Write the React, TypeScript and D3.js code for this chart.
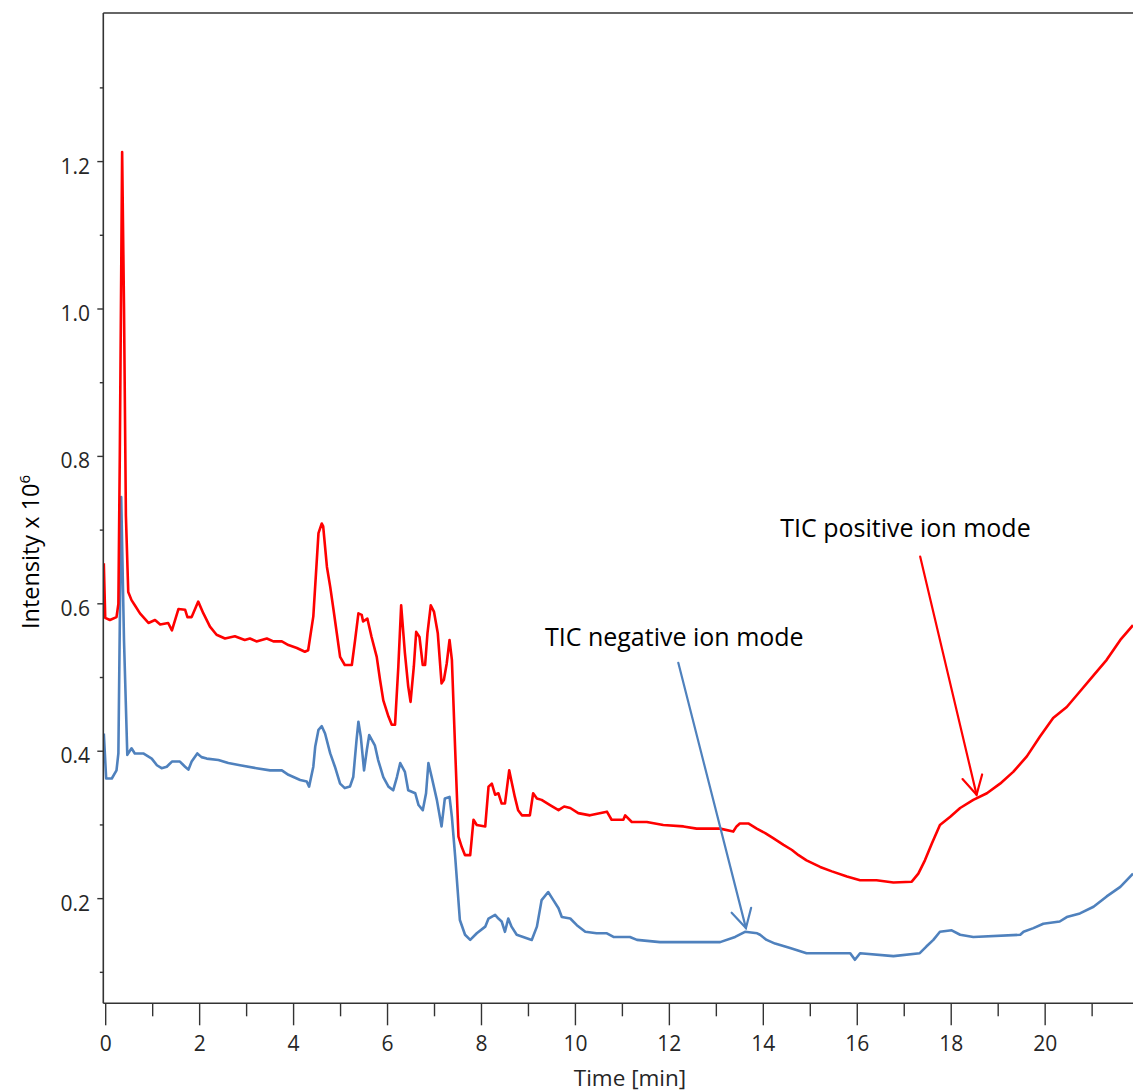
import React from "react";
import * as d3 from "d3";

// Time [min], Intensity x 10^6
const positiveTIC: [number, number][] = [
  [-0.04, 0.655], [-0.01, 0.581], [0.09, 0.578], [0.23, 0.582], [0.27, 0.6], [0.3, 0.8], [0.35, 1.213],
  [0.39, 1.0], [0.43, 0.72], [0.48, 0.616], [0.55, 0.605], [0.62, 0.598], [0.73, 0.587], [0.91, 0.574],
  [1.05, 0.578], [1.16, 0.572], [1.33, 0.574], [1.41, 0.564], [1.55, 0.593], [1.69, 0.592], [1.74, 0.582],
  [1.83, 0.582], [1.97, 0.603], [2.08, 0.587], [2.22, 0.569], [2.36, 0.558], [2.54, 0.553], [2.75, 0.556],
  [2.96, 0.551], [3.07, 0.553], [3.21, 0.549], [3.43, 0.553], [3.57, 0.549], [3.75, 0.549], [3.89, 0.544],
  [4.07, 0.54], [4.24, 0.535], [4.31, 0.537], [4.42, 0.583], [4.53, 0.696], [4.6, 0.709], [4.63, 0.705],
  [4.71, 0.65], [4.78, 0.623], [4.85, 0.592], [4.92, 0.56], [4.99, 0.528], [5.09, 0.517], [5.24, 0.517],
  [5.31, 0.551], [5.38, 0.587], [5.45, 0.585], [5.48, 0.576], [5.57, 0.58], [5.66, 0.555], [5.77, 0.528],
  [5.84, 0.497], [5.91, 0.469], [6.02, 0.447], [6.09, 0.436], [6.16, 0.436], [6.23, 0.515], [6.29, 0.598],
  [6.37, 0.533], [6.44, 0.488], [6.49, 0.467], [6.56, 0.515], [6.61, 0.562], [6.68, 0.555], [6.75, 0.517],
  [6.8, 0.517], [6.85, 0.56], [6.92, 0.598], [6.99, 0.589], [7.07, 0.56], [7.15, 0.492], [7.2, 0.497],
  [7.26, 0.519], [7.32, 0.551], [7.37, 0.524], [7.44, 0.402], [7.51, 0.284], [7.58, 0.27], [7.65, 0.259],
  [7.76, 0.259], [7.83, 0.307], [7.9, 0.3], [8.08, 0.298], [8.15, 0.352], [8.22, 0.356], [8.29, 0.341],
  [8.36, 0.343], [8.43, 0.329], [8.5, 0.329], [8.59, 0.374], [8.64, 0.359], [8.71, 0.338], [8.78, 0.32],
  [8.86, 0.313], [9.03, 0.313], [9.1, 0.343], [9.18, 0.336], [9.28, 0.334], [9.46, 0.327], [9.64, 0.32],
  [9.76, 0.325], [9.89, 0.323], [10.06, 0.316], [10.31, 0.313], [10.67, 0.318], [10.77, 0.307],
  [11.02, 0.307], [11.06, 0.313], [11.2, 0.304], [11.52, 0.304], [11.87, 0.3], [12.3, 0.298],
  [12.58, 0.295], [13.08, 0.295], [13.36, 0.291], [13.43, 0.298], [13.5, 0.302], [13.68, 0.302],
  [13.86, 0.295], [14.04, 0.289], [14.21, 0.282], [14.43, 0.273], [14.61, 0.266], [14.75, 0.259],
  [14.92, 0.252], [15.21, 0.243], [15.46, 0.237], [15.78, 0.23], [16.06, 0.225], [16.41, 0.225],
  [16.77, 0.222], [17.16, 0.223], [17.3, 0.234], [17.44, 0.252], [17.59, 0.275], [17.76, 0.3],
  [17.98, 0.311], [18.19, 0.323], [18.47, 0.334], [18.76, 0.343], [19.04, 0.356], [19.32, 0.372],
  [19.61, 0.393], [19.89, 0.42], [20.17, 0.445], [20.46, 0.46], [20.74, 0.481], [21.03, 0.503],
  [21.31, 0.524], [21.6, 0.551], [21.87, 0.571],
];

const negativeTIC: [number, number][] = [
  [-0.04, 0.424], [0.01, 0.363], [0.13, 0.363], [0.23, 0.374], [0.27, 0.397], [0.33, 0.745], [0.39, 0.55],
  [0.46, 0.395], [0.55, 0.404], [0.62, 0.397], [0.8, 0.397], [0.98, 0.39], [1.09, 0.381], [1.19, 0.377],
  [1.3, 0.379], [1.41, 0.386], [1.58, 0.386], [1.69, 0.379], [1.76, 0.375], [1.83, 0.386], [1.95, 0.397],
  [2.04, 0.392], [2.15, 0.39], [2.4, 0.388], [2.61, 0.384], [2.86, 0.381], [3.21, 0.377], [3.5, 0.374],
  [3.75, 0.374], [3.89, 0.368], [4.14, 0.361], [4.28, 0.359], [4.33, 0.352], [4.42, 0.379], [4.46, 0.406],
  [4.53, 0.429], [4.6, 0.434], [4.67, 0.424], [4.78, 0.397], [4.88, 0.379], [4.99, 0.356], [5.09, 0.35],
  [5.2, 0.352], [5.27, 0.365], [5.34, 0.415], [5.38, 0.44], [5.43, 0.42], [5.5, 0.374], [5.56, 0.402],
  [5.61, 0.422], [5.73, 0.408], [5.8, 0.388], [5.91, 0.365], [6.02, 0.352], [6.12, 0.347], [6.2, 0.365],
  [6.27, 0.384], [6.37, 0.372], [6.44, 0.347], [6.59, 0.343], [6.66, 0.327], [6.75, 0.32], [6.82, 0.343],
  [6.87, 0.384], [6.94, 0.365], [7.05, 0.334], [7.15, 0.298], [7.22, 0.336], [7.32, 0.338], [7.37, 0.311],
  [7.44, 0.257], [7.54, 0.171], [7.65, 0.151], [7.76, 0.144], [7.9, 0.153], [8.08, 0.162], [8.15, 0.173],
  [8.29, 0.178], [8.36, 0.173], [8.43, 0.169], [8.5, 0.155], [8.57, 0.173], [8.64, 0.162], [8.75, 0.151],
  [9.07, 0.144], [9.18, 0.162], [9.28, 0.198], [9.42, 0.209], [9.53, 0.198], [9.64, 0.187], [9.71, 0.175],
  [9.89, 0.173], [10.03, 0.164], [10.21, 0.155], [10.45, 0.153], [10.67, 0.153], [10.81, 0.148],
  [11.16, 0.148], [11.31, 0.144], [11.8, 0.141], [12.44, 0.141], [13.08, 0.141], [13.4, 0.148],
  [13.61, 0.155], [13.87, 0.153], [13.93, 0.151], [14.07, 0.144], [14.25, 0.139], [14.57, 0.133],
  [14.92, 0.126], [15.85, 0.126], [15.95, 0.117], [16.06, 0.126], [16.77, 0.122], [17.33, 0.126],
  [17.47, 0.135], [17.62, 0.144], [17.76, 0.155], [18.01, 0.157], [18.19, 0.151], [18.47, 0.148],
  [19.47, 0.151], [19.54, 0.155], [19.75, 0.16], [19.96, 0.166], [20.31, 0.169], [20.46, 0.175],
  [20.74, 0.18], [21.03, 0.189], [21.31, 0.203], [21.6, 0.216], [21.87, 0.234],
];

const xMajorTicks = [0, 2, 4, 6, 8, 10, 12, 14, 16, 18, 20];
const xMinorTicks = [1, 3, 5, 7, 9, 11, 13, 15, 17, 19, 21];
const yMajorTicks = [0.2, 0.4, 0.6, 0.8, 1.0, 1.2];
const yMinorTicks = [0.1, 0.3, 0.5, 0.7, 0.9, 1.1, 1.3];

const negLabel = { text: "TIC negative ion mode", t: 9.35, v: 0.543, from: [12.19, 0.52], to: [13.63, 0.16] };
const posLabel = { text: "TIC positive ion mode", t: 14.36, v: 0.690, from: [17.34, 0.664], to: [18.54, 0.341] };

const RED = "#ff0000";
const BLUE = "#4f81bd";
const FONT = "'Open Sans', sans-serif";

export default function App() {
  const W = 1133, H = 1092;
  const left = 103.3, right = 1133, top = 13, bottom = 1003.3;
  const x = d3.scaleLinear().domain([-0.051, 21.87]).range([left, right]);
  const y = d3.scaleLinear().domain([0.058, 1.4016]).range([bottom, top]);
  const line = d3.line<[number, number]>().x(d => x(d[0])).y(d => y(d[1])).curve(d3.curveLinear);

  const arrow = (a: any, color: string) => {
    const x1 = x(a.from[0]), y1 = y(a.from[1]), x2 = x(a.to[0]), y2 = y(a.to[1]);
    const ang = Math.atan2(y2 - y1, x2 - x1);
    const L = 21, sp = 0.5;
    const p1 = [x2 - L * Math.cos(ang - sp), y2 - L * Math.sin(ang - sp)];
    const p2 = [x2 - L * Math.cos(ang + sp), y2 - L * Math.sin(ang + sp)];
    return (
      <g stroke={color} strokeWidth={2.2} fill="none" strokeLinecap="round">
        <line x1={x1} y1={y1} x2={x2} y2={y2} />
        <polyline points={`${p1[0]},${p1[1]} ${x2},${y2} ${p2[0]},${p2[1]}`} />
      </g>
    );
  };

  return (
    <svg width={W} height={H} style={{ position: "absolute", left: 0, top: 0, background: "#fff" }}>
      <rect x={0} y={0} width={W} height={H} fill="#fff" />
      <defs>
        <clipPath id="plot">
          <rect x={left} y={top} width={right - left} height={bottom - top} />
        </clipPath>
      </defs>
      <g clipPath="url(#plot)" fill="none" strokeWidth={2.6} strokeLinejoin="round">
        <path d={line(negativeTIC) || ""} stroke={BLUE} />
        <path d={line(positiveTIC) || ""} stroke={RED} />
      </g>
      <g stroke="#333" strokeWidth={1.6} fill="none">
        <line x1={left} y1={top} x2={right} y2={top} />
        <line x1={left} y1={top} x2={left} y2={bottom} />
        <line x1={left} y1={bottom} x2={right} y2={bottom} />
      </g>
      <g stroke="#333" strokeWidth={1.4}>
        {xMajorTicks.map(t => <line key={"xM" + t} x1={x(t)} x2={x(t)} y1={bottom} y2={bottom + 22} />)}
        {xMinorTicks.map(t => <line key={"xm" + t} x1={x(t)} x2={x(t)} y1={bottom} y2={bottom + 13} />)}
        {yMajorTicks.map(v => <line key={"yM" + v} x1={left - 6} x2={left} y1={y(v)} y2={y(v)} />)}
        {yMinorTicks.map(v => <line key={"ym" + v} x1={left - 3.5} x2={left} y1={y(v)} y2={y(v)} />)}
      </g>
      <g fontFamily={FONT} fontSize={21} fill="#262626">
        {xMajorTicks.map(t => (
          <text key={"xl" + t} x={x(t)} y={1051} textAnchor="middle">{t}</text>
        ))}
        {yMajorTicks.map(v => (
          <text key={"yl" + v} x={90} y={y(v) + 12} textAnchor="end">{v.toFixed(1)}</text>
        ))}
      </g>
      <text x={630} y={1086} textAnchor="middle" fontFamily={FONT} fontSize={22.5} fill="#262626">Time [min]</text>
      <text transform="translate(39,552) rotate(-90)" textAnchor="middle" fontFamily={FONT} fontSize={23.5} fill="#000">
        Intensity x 10<tspan dy={-9} fontSize={15}>6</tspan>
      </text>
      <text x={x(negLabel.t)} y={y(negLabel.v)} fontFamily={FONT} fontSize={25} fill="#000">{negLabel.text}</text>
      <text x={x(posLabel.t)} y={y(posLabel.v)} fontFamily={FONT} fontSize={25} fill="#000">{posLabel.text}</text>
      {arrow(negLabel, BLUE)}
      {arrow(posLabel, RED)}
    </svg>
  );
}
